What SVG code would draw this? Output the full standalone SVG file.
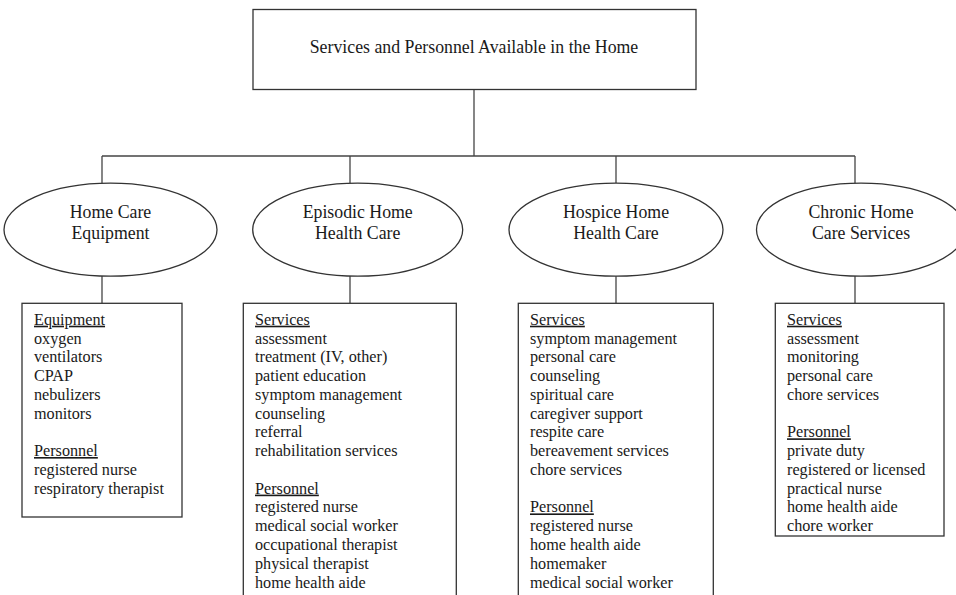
<svg xmlns="http://www.w3.org/2000/svg" width="956" height="595" viewBox="0 0 956 595">
<style>
.shape{fill:#fff;stroke:#333;stroke-width:1.3}
.conn line{stroke:#444;stroke-width:1.3}
.t{font-family:"Liberation Serif","Times New Roman",serif;fill:#1a1a1a}
.big{font-size:17.8px;text-anchor:middle}
.list{font-size:16.2px}
.u{text-decoration:underline}
</style>
<rect width="956" height="595" fill="#fff"/>
<g class="conn" id="connectors">
<line x1="474" y1="89.5" x2="474" y2="156"/>
<line x1="102" y1="156" x2="855" y2="156"/>
<line x1="102" y1="156" x2="102" y2="183.5"/>
<line x1="350" y1="156" x2="350" y2="183.5"/>
<line x1="616" y1="156" x2="616" y2="183"/>
<line x1="855" y1="156" x2="855" y2="183.5"/>
<line x1="102" y1="276" x2="102" y2="303"/>
<line x1="350" y1="276" x2="350" y2="303"/>
<line x1="616" y1="276" x2="616" y2="303"/>
<line x1="855" y1="276" x2="855" y2="303"/>
</g>
<g id="root">
<rect class="shape" x="253" y="9.5" width="443" height="80"/>
<text class="t big" x="474" y="53">Services and Personnel Available in the Home</text>
</g>
<g id="home-care-equipment">
<ellipse class="shape" cx="110.5" cy="229.7" rx="106.5" ry="46.5"/>
<text class="t big" x="110.5" y="218">Home Care</text>
<text class="t big" x="110.5" y="238.5">Equipment</text>
</g>
<g id="episodic">
<ellipse class="shape" cx="357.7" cy="229.7" rx="105" ry="46.5"/>
<text class="t big" x="357.7" y="218">Episodic Home</text>
<text class="t big" x="357.7" y="238.5">Health Care</text>
</g>
<g id="hospice">
<ellipse class="shape" cx="616" cy="229.7" rx="107" ry="46.5"/>
<text class="t big" x="616" y="218">Hospice Home</text>
<text class="t big" x="616" y="238.5">Health Care</text>
</g>
<g id="chronic">
<ellipse class="shape" cx="861" cy="229.7" rx="104.5" ry="46.5"/>
<text class="t big" x="861" y="218">Chronic Home</text>
<text class="t big" x="861" y="238.5">Care Services</text>
</g>
<g id="box-equipment">
<rect class="shape" x="22" y="303.3" width="160" height="213.7"/>
<text class="t list" x="34">
<tspan x="34" y="324.7" class="u">Equipment</tspan>
<tspan x="34" y="343.5">oxygen</tspan>
<tspan x="34" y="362.2">ventilators</tspan>
<tspan x="34" y="381">CPAP</tspan>
<tspan x="34" y="399.8">nebulizers</tspan>
<tspan x="34" y="418.5">monitors</tspan>
<tspan x="34" y="456" class="u">Personnel</tspan>
<tspan x="34" y="474.8">registered nurse</tspan>
<tspan x="34" y="493.6">respiratory therapist</tspan>
</text>
</g>
<g id="box-episodic">
<rect class="shape" x="243.3" y="303.3" width="213" height="305"/>
<text class="t list" x="255">
<tspan x="255" y="324.7" class="u">Services</tspan>
<tspan x="255" y="343.5">assessment</tspan>
<tspan x="255" y="362.2">treatment (IV, other)</tspan>
<tspan x="255" y="381">patient education</tspan>
<tspan x="255" y="399.8">symptom management</tspan>
<tspan x="255" y="418.5">counseling</tspan>
<tspan x="255" y="437.3">referral</tspan>
<tspan x="255" y="456">rehabilitation services</tspan>
<tspan x="255" y="493.6" class="u">Personnel</tspan>
<tspan x="255" y="512.4">registered nurse</tspan>
<tspan x="255" y="531.2">medical social worker</tspan>
<tspan x="255" y="550">occupational therapist</tspan>
<tspan x="255" y="568.7">physical therapist</tspan>
<tspan x="255" y="587.5">home health aide</tspan>
</text>
</g>
<g id="box-hospice">
<rect class="shape" x="518.3" y="303.3" width="195" height="305"/>
<text class="t list" x="530">
<tspan x="530" y="324.7" class="u">Services</tspan>
<tspan x="530" y="343.5">symptom management</tspan>
<tspan x="530" y="362.2">personal care</tspan>
<tspan x="530" y="381">counseling</tspan>
<tspan x="530" y="399.8">spiritual care</tspan>
<tspan x="530" y="418.5">caregiver support</tspan>
<tspan x="530" y="437.3">respite care</tspan>
<tspan x="530" y="456">bereavement services</tspan>
<tspan x="530" y="474.8">chore services</tspan>
<tspan x="530" y="512.4" class="u">Personnel</tspan>
<tspan x="530" y="531.2">registered nurse</tspan>
<tspan x="530" y="550">home health aide</tspan>
<tspan x="530" y="568.7">homemaker</tspan>
<tspan x="530" y="587.5">medical social worker</tspan>
</text>
</g>
<g id="box-chronic">
<rect class="shape" x="775.3" y="303.3" width="168.7" height="232.7"/>
<text class="t list" x="787">
<tspan x="787" y="324.7" class="u">Services</tspan>
<tspan x="787" y="343.5">assessment</tspan>
<tspan x="787" y="362.2">monitoring</tspan>
<tspan x="787" y="381">personal care</tspan>
<tspan x="787" y="399.8">chore services</tspan>
<tspan x="787" y="437.3" class="u">Personnel</tspan>
<tspan x="787" y="456">private duty</tspan>
<tspan x="787" y="474.8">registered or licensed</tspan>
<tspan x="787" y="493.6">practical nurse</tspan>
<tspan x="787" y="512.4">home health aide</tspan>
<tspan x="787" y="531.2">chore worker</tspan>
</text>
</g>
</svg>
